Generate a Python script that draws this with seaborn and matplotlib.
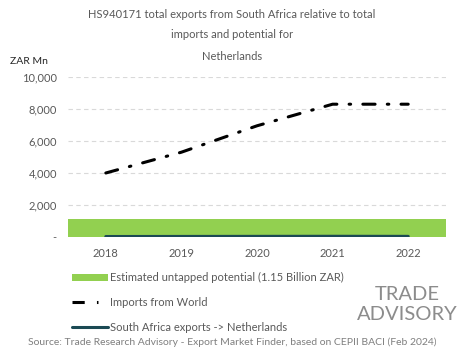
import matplotlib
matplotlib.use("Agg")
import matplotlib.pyplot as plt
import seaborn as sns
import pandas as pd
from matplotlib.ticker import FuncFormatter
from matplotlib.lines import Line2D
from matplotlib.patches import Patch

years = ["2018", "2019", "2020", "2021", "2022"]
imports_world = [4000, 5300, 6950, 8300, 8300]
sa_exports = [30, 35, 40, 45, 40]
potential = [1150, 1150, 1150, 1150, 1150]
yticks = [0, 2000, 4000, 6000, 8000, 10000]

sns.set_theme(style="white")
plt.rcParams['font.family'] = ['Lato', 'DejaVu Sans']
grey = "#595959"

fig = plt.figure(figsize=(4.65, 3.59), dpi=100)
ax = fig.add_axes([68/465, 1-237/359, (446-68)/465, (237-77)/359])

df = pd.DataFrame({"year": years, "imports": imports_world, "sa": sa_exports, "pot": potential})

sns.barplot(data=df, x="year", y="pot", color="#92d050", width=1.0, saturation=1, ax=ax, zorder=2,
            edgecolor="none", linewidth=0)
sns.lineplot(x=list(range(len(years))), y=imports_world, ax=ax, color="black", lw=2.2, zorder=3,
             linestyle=(0, (4, 4, 0.5, 4)), dash_capstyle="round")
sns.lineplot(x=list(range(len(years))), y=sa_exports, ax=ax, color="#1b4a54", lw=2.2, zorder=4)

ax.set_xlim(-0.5, 4.5)
ax.set_ylim(0, 10000)
ax.set_yticks(yticks)
ax.yaxis.set_major_formatter(FuncFormatter(lambda v, p: "-" if v == 0 else f"{int(v):,}"))
ax.grid(axis="y", color="#d9d9d9", ls=(0, (4, 3)), lw=0.8, zorder=0)
ax.set_axisbelow(True)
for s in ax.spines.values():
    s.set_visible(False)
ax.tick_params(axis="both", length=0, labelsize=8, colors=grey, pad=8)
ax.set_xlabel("")
ax.set_ylabel("")

fig.text(232/465, 1-14/359, "HS940171 total exports from South Africa relative to total",
         ha="center", va="center", fontsize=8, color=grey)
fig.text(232/465, 1-35/359, "imports and potential for", ha="center", va="center", fontsize=8, color=grey)
fig.text(232/465, 1-56/359, "Netherlands", ha="center", va="center", fontsize=8, color=grey)
fig.text(10/465, 1-61/359, "ZAR Mn", ha="left", va="center", fontsize=7.5, color="#262626")

handles = [Patch(facecolor="#92d050", edgecolor="none"),
           Line2D([0], [0], color="black", lw=2.2, linestyle=(0, (4, 4, 0.5, 4))),
           Line2D([0], [0], color="#1b4a54", lw=2.2)]
labels = ["Estimated untapped potential (1.15 Billion ZAR)", "Imports from World",
          "South Africa exports -> Netherlands"]
fig.legend(handles, labels, loc="upper left", bbox_to_anchor=(68/465, 1-268/359), frameon=False,
           fontsize=8, labelcolor=grey, handlelength=3.2, handletextpad=0.2, labelspacing=1.25,
           borderaxespad=0)

fig.text(232/465, 1-342/359, "Source: Trade Research Advisory - Export Market Finder, based on CEPII BACI (Feb 2024)",
         ha="center", va="center", fontsize=7.5, color="#7f7f7f")
fig.text(407/465, 1-295/359, "TRADE", ha="center", va="center", fontsize=14.5, color="#8c8c8c")
fig.text(407/465, 1-315/359, "ADVISORY", ha="center", va="center", fontsize=14.5, color="#8c8c8c")

fig.savefig("out.png", dpi=100)
